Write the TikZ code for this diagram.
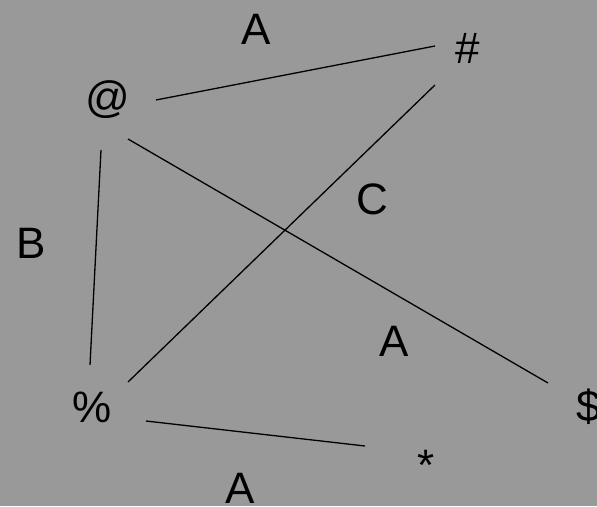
\documentclass[tikz,border=0pt]{standalone}
\usepackage{fontspec}
\setmainfont{Liberation Sans}
\usetikzlibrary{calc}
\usetikzlibrary{positioning}

\begin{document}
\begin{tikzpicture}[x=1pt, y=-1pt]
    \tikzset{
        sym/.style={inner sep=0pt, anchor=base, font=\fontsize{44}{52}\selectfont},
        edge/.style={line width=1.3pt, black}
    }

    % Background
    \fill [black!40] (0,0) rectangle (597,506);
    \useasboundingbox (0,0) rectangle (597,506);

    % Symbols
    \node [sym] (at)     at (108,112) {@};
    \node [sym] (hash)   at (468,63)  {\#};
    \node [sym] (pct)    at (92,422)  {\%};
    \node [sym] (dollar) at (589,421) {\$};
    \node [sym] (star)   at (426,480) {*};

    % Edges
    \draw [edge] ([shift={(48,-12)}]at.base) -- ([shift={(-33,-17)}]hash.base);
    \draw [edge] ([shift={(-7,38)}]at.base) -- ([shift={(-2,-57)}]pct.base);
    \draw [edge] ([shift={(20,27)}]at.base) -- ([shift={(-41,-38)}]dollar.base);
    \draw [edge] ([shift={(-33,22)}]hash.base) -- ([shift={(36,-40)}]pct.base);
    \draw [edge] ([shift={(54,-1)}]pct.base) -- ([shift={(-61,-34)}]star.base);

    % Edge labels
    \node [sym] (lab1) at (256,44)  {A};
    \node [sym] (lab2) at (31,258)  {B};
    \node [sym] (lab3) at (372,214) {C};
    \node [sym] (lab4) at (394,356) {A};
    \node [sym] (lab5) at (240,503) {A};

\end{tikzpicture}
\end{document}
